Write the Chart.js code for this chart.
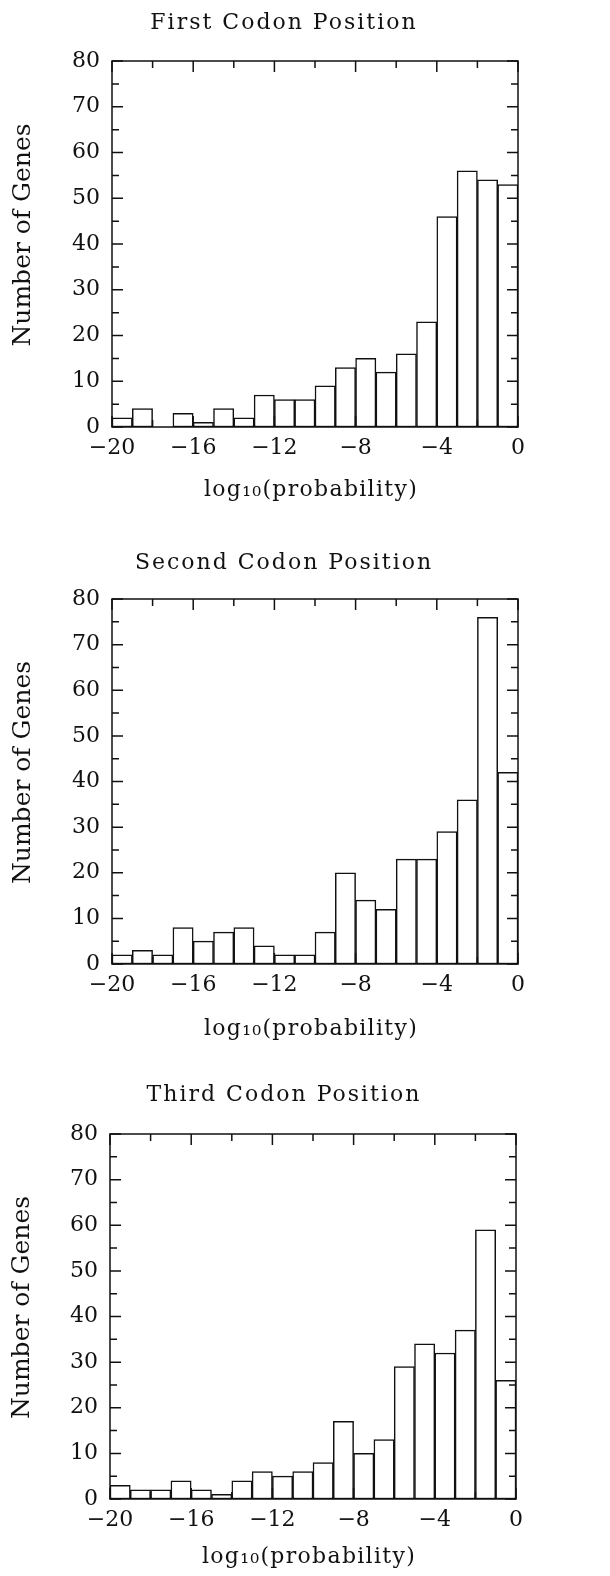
<!DOCTYPE html>
<html><head><meta charset="utf-8">
<script src="https://cdn.jsdelivr.net/npm/chart.js@4.4.0/dist/chart.umd.min.js"></script>
<style>
html,body{margin:0;padding:0;background:#fff;}
body{width:610px;height:1576px;position:relative;overflow:hidden;}
canvas{position:absolute;left:0;}
</style></head><body>
<canvas id="c1" width="610" height="520" style="top:0px"></canvas>
<canvas id="c2" width="610" height="520" style="top:540px"></canvas>
<canvas id="c3" width="610" height="504" style="top:1072px"></canvas>
<script>
// ---- data ----
const binStarts = [-20,-19,-18,-17,-16,-15,-14,-13,-12,-11,-10,-9,-8,-7,-6,-5,-4,-3,-2,-1];
const firstCounts  = [2,4,0,3,1,4,2,7,6,6,9,13,15,12,16,23,46,56,54,53];
const secondCounts = [2,3,2,8,5,7,8,4,2,2,7,20,14,12,23,23,29,36,76,42];
const thirdCounts  = [3,2,2,4,2,1,4,6,5,6,8,17,10,13,29,34,32,37,59,26];
const panelTitles = ["First Codon Position","Second Codon Position","Third Codon Position"];
const xTickLabels = [-20,-16,-12,-8,-4,0];
const yTickLabels = [0,10,20,30,40,50,60,70,80];
const yAxisTitle = "Number of Genes";
const xAxisTitle = "log\u2081\u2080(probability)";

const FONT = "'DejaVu Serif', serif";
const INK = '#111';

const layouts = [
  {id:'c1', h:520, titleY:23, plotTop:61, plotBottom:427, xTitleY:490, left:112, right:518, yTitleX:23.5},
  {id:'c2', h:520, titleY:23, plotTop:59, plotBottom:424, xTitleY:489, left:112, right:518, yTitleX:23.5},
  {id:'c3', h:504, titleY:23, plotTop:62, plotBottom:427, xTitleY:485, left:110, right:516, yTitleX:22}
];
const allCounts = [firstCounts, secondCounts, thirdCounts];
const TITLE_RIGHT_PAD = 42; // centres panel titles at x = 284

const framePlugin = {
  id: 'frame',
  afterDatasetsDraw(chart) {
    const {ctx, chartArea: a, scales: {x, y}} = chart;
    ctx.save();
    ctx.strokeStyle = INK;
    ctx.lineWidth = 1.5;
    ctx.strokeRect(a.left, a.top, a.right - a.left, a.bottom - a.top);
    ctx.beginPath();
    for (let v = -20; v <= 0; v += 2) {
      const px = x.getPixelForValue(v);
      const len = (v % 4 === 0) ? 11 : 7;
      ctx.moveTo(px, a.top); ctx.lineTo(px, a.top + len);
      ctx.moveTo(px, a.bottom); ctx.lineTo(px, a.bottom - len);
    }
    for (let v = 0; v <= 80; v += 5) {
      const py = y.getPixelForValue(v);
      const len = (v % 10 === 0) ? 11 : 7;
      ctx.moveTo(a.left, py); ctx.lineTo(a.left + len, py);
      ctx.moveTo(a.right, py); ctx.lineTo(a.right - len, py);
    }
    ctx.stroke();
    ctx.restore();
  }
};

// letter spacing / small offsets for the titles (typewriter-like serif of the original)
const spacingPlugin = {
  id: 'spacing',
  beforeDraw(chart) {
    const ctx = chart.ctx;
    const wrap = (obj, fn, sp, dx, dy) => {
      if (!obj || obj['_sp_' + fn]) return;
      const orig = obj[fn];
      obj[fn] = function (...args) {
        ctx.save();
        if ('letterSpacing' in ctx) ctx.letterSpacing = sp;
        ctx.translate(dx, dy);
        orig.apply(this, args);
        ctx.restore();
      };
      obj['_sp_' + fn] = true;
    };
    wrap(chart.titleBlock, 'draw', '2px', 0, 0);
    wrap(chart.scales.x, 'drawTitle', '1.3px', -4, 0);
    wrap(chart.scales.y, 'drawTitle', '0px', 0, -9);
  }
};

const minus = v => (v < 0 ? '\u2212' + Math.abs(v) : String(v));

layouts.forEach((L, i) => {
  const counts = allCounts[i];
  const lh = 22 * 1.2;
  new Chart(document.getElementById(L.id), {
    type: 'bar',
    data: {
      datasets: [{
        data: binStarts.map((s, k) => ({x: s + 0.5, y: counts[k]})),
        backgroundColor: '#ffffff',
        borderColor: INK,
        borderWidth: 1.5,
        borderSkipped: false,
        barPercentage: 1,
        categoryPercentage: 1
      }]
    },
    options: {
      responsive: false,
      animation: false,
      devicePixelRatio: 1,
      layout: {padding: {left: 0, right: TITLE_RIGHT_PAD, top: 0, bottom: 0}},
      plugins: {
        legend: {display: false},
        tooltip: {enabled: false},
        title: {
          display: true,
          text: panelTitles[i],
          color: INK,
          font: {family: FONT, size: 22, weight: 'normal', lineHeight: 1.2},
          padding: {top: L.titleY - lh / 2, bottom: L.plotTop - (L.titleY + lh / 2)}
        }
      },
      scales: {
        x: {
          type: 'linear',
          min: -20, max: 0,
          offset: false,
          afterBuildTicks: s => { s.ticks = xTickLabels.map(v => ({value: v})); },
          afterFit: s => { s.height = L.h - L.plotBottom; },
          grid: {display: false, drawTicks: false},
          border: {display: false},
          ticks: {
            color: INK, padding: 8, maxRotation: 0, autoSkip: false,
            font: {family: FONT, size: 22},
            callback: v => minus(v)
          },
          title: {
            display: true, text: xAxisTitle, color: INK,
            font: {family: FONT, size: 22, lineHeight: 1.2},
            padding: {top: 0, bottom: L.h - L.xTitleY - lh / 2}
          }
        },
        y: {
          min: 0, max: 80,
          afterBuildTicks: s => { s.ticks = yTickLabels.map(v => ({value: v})); },
          afterFit: s => { s.width = L.left; },
          grid: {display: false, drawTicks: false},
          border: {display: false},
          ticks: {
            color: INK, padding: 12,
            font: {family: FONT, size: 22}
          },
          title: {
            display: true, text: yAxisTitle, color: INK,
            font: {family: FONT, size: 25, lineHeight: 1.2},
            padding: {top: L.yTitleX - 25 * 0.6, bottom: 0}
          }
        },
        yRight: {
          position: 'right',
          min: 0, max: 80,
          afterFit: s => { s.width = 610 - TITLE_RIGHT_PAD - L.right; },
          grid: {display: false, drawTicks: false},
          border: {display: false},
          ticks: {display: false}
        }
      }
    },
    plugins: [framePlugin, spacingPlugin]
  });
});
</script>
</body></html>
